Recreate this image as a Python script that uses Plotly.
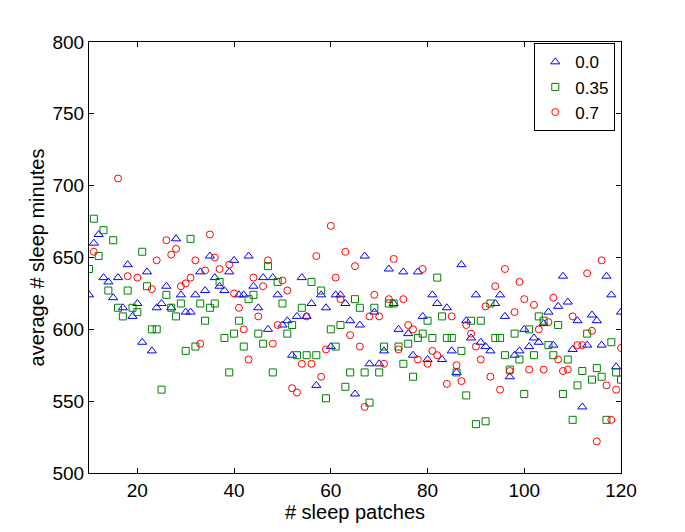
import plotly.graph_objects as go

# number of sleep patches (x) for every series
patches = list(range(10, 121))

# series 0.0 (blue triangles), values for x = 10..120
s00 = [624, 660, 666, 636, 633, 622, 636, 615, 645, 609,
       618, 591, 640, 585, 615, 618, 630, 615, 663, 624,
       612, 612, 624, 640, 627, 651, 636, 630, 627, 640,
       648, 624, 624, 651, 630, 615, 636, 600, 636, 624,
       603, 606, 582, 609, 636, 609, 618, 561, 624, 615,
       588, 624, 624, 618, 606, 555, 603, 651, 576, 612,
       576, 585, 642, 618, 600, 640, 597, 582, 640, 609,
       579, 624, 618, 579, 615, 585, 570, 645, 606, 594,
       624, 591, 588, 585, 618, 624, 609, 567, 582, 585,
       600, 588, 594, 591, 604, 612, 589, 616, 637, 619,
       586, 606, 546, 589, 610, 606, 589, 637, 624, 574,
       612]

# series 0.35 (green squares), values for x = 10..120
s035 = [642, 677, 651, 669, 627, 662, 615, 609, 627, 615,
        612, 654, 630, 600, 600, 558, 624, 615, 609, 618,
        585, 663, 588, 618, 606, 615, 618, 633, 594, 570,
        597, 606, 588, 621, 624, 597, 590, 644, 570, 633,
        618, 597, 603, 582, 615, 582, 633, 582, 627, 552,
        600, 588, 603, 560, 570, 621, 615, 570, 549, 615,
        570, 588, 618, 618, 588, 576, 590, 567, 594, 597,
        606, 594, 636, 609, 594, 594, 570, 585, 554, 606,
        534, 606, 536, 618, 594, 594, 582, 572, 597, 579,
        555, 600, 582, 609, 606, 589, 582, 603, 555, 579,
        537, 561, 571, 597, 565, 573, 567, 537, 591, 570,
        565]

# series 0.7 (red circles), values for x = 10..120 (None = no point)
s07 = [None, 654, None, None, None, None, 705, None, 637, None,
       636, None, None, 628, 648, None, 662, 652, 656, 630,
       632, 636, 648, 590, 641, 666, 650, 642, None, 645,
       625, 615, 600, 579, 636, 609, 630, 648, 590, 603,
       634, 627, 559, 556, 576, 609, 576, 651, 567, 586,
       672, 636, 621, 654, 596, 644, 588, 546, 609, 624,
       609, 576, 621, 649, 586, 621, 603, 600, 579, 642,
       576, 585, 582, None, 562, 609, 575, 564, 603, 597,
       588, 579, 616, 567, 630, 558, 642, 571, 612, 633,
       621, 572, 617, 600, 572, 605, 622, 579, 571, 572,
       609, 589, 589, 639, 599, 522, 648, 561, 537, 558,
       587]

series_names = ["0.0", "0.35", "0.7"]
x_ticks = [20, 40, 60, 80, 100, 120]
y_ticks = [500, 550, 600, 650, 700, 750, 800]

FONT = "Liberation Sans, Arial"

fig = go.Figure()
fig.add_trace(go.Scatter(
    x=patches, y=s00, mode="markers", name=series_names[0],
    marker=dict(symbol="triangle-up-open", size=8, color="#0000ff",
                line=dict(width=1, color="#0000ff"))))
fig.add_trace(go.Scatter(
    x=patches, y=s035, mode="markers", name=series_names[1],
    marker=dict(symbol="square-open", size=7, color="#008000",
                line=dict(width=1, color="#008000"))))
fig.add_trace(go.Scatter(
    x=patches, y=s07, mode="markers", name=series_names[2],
    marker=dict(symbol="circle-open", size=7, color="#ff0000",
                line=dict(width=1, color="#ff0000"))))

axis_common = dict(
    showline=True, linecolor="black", linewidth=1, mirror="ticks",
    ticks="inside", ticklen=5, tickcolor="black", showgrid=False,
    zeroline=False, automargin=False,
    tickfont=dict(family=FONT, size=19, color="black"),
)

fig.update_xaxes(range=[10, 120], tickvals=x_ticks,
                 title=dict(text="# sleep patches", standoff=2,
                            font=dict(family=FONT, size=20, color="black")),
                 **axis_common)
fig.update_yaxes(range=[500, 800], tickvals=y_ticks,
                 title=dict(text="average # sleep minutes", standoff=2,
                            font=dict(family=FONT, size=20, color="black")),
                 **axis_common)

# the page body adds an 8 px offset, so margins are reduced by 8 px
fig.update_layout(
    width=685, height=532,
    margin=dict(l=81, r=72, t=34, b=67),
    paper_bgcolor="white", plot_bgcolor="white",
    font=dict(family=FONT, size=18, color="black"),
    legend=dict(x=0.837, y=0.997, xanchor="left", yanchor="top",
                bordercolor="black", borderwidth=1, bgcolor="white",
                font=dict(family=FONT, size=17), itemwidth=30, tracegroupgap=0),
    showlegend=True,
)

fig.write_html("out.html")
